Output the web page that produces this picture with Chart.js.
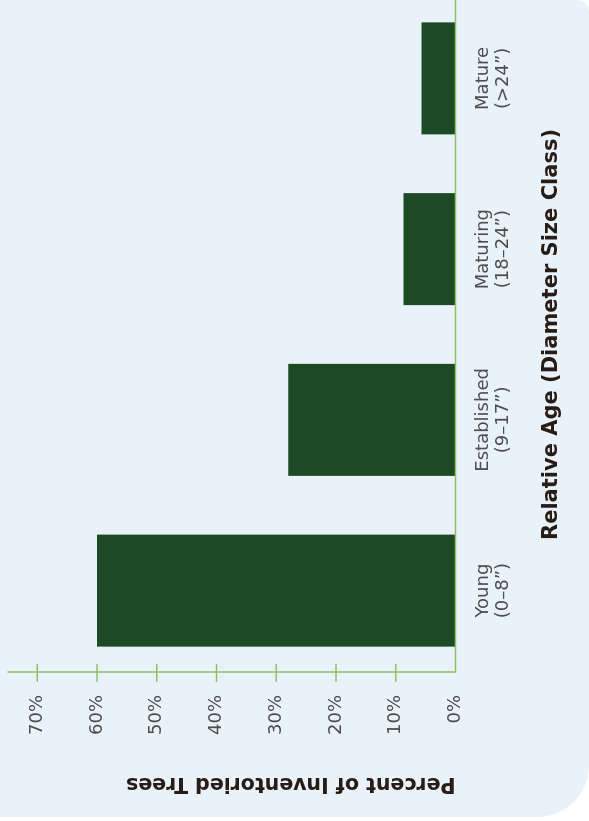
<!DOCTYPE html>
<html>
<head>
<meta charset="utf-8">
<script src="https://cdn.jsdelivr.net/npm/chart.js@4.4.1/dist/chart.umd.min.js"></script>
<style>
  body { margin: 0; background: #fff; overflow: hidden; }
  .panel {
    position: absolute; left: 0; top: 0;
    width: 589px; height: 817px;
    background: #e9f2f9;
    border-radius: 0 12px 52px 0;
    overflow: hidden;
  }
  /* chart is drawn upright then turned a quarter turn to the left */
  .wrap {
    position: absolute; left: 0; top: 0;
    width: 830px; height: 589px;
    transform-origin: 0 0;
    transform: translate(0, 821px) rotate(-90deg);
  }
</style>
</head>
<body>
<div class="panel">
  <div class="wrap"><canvas id="myChart" width="830" height="589"></canvas></div>
</div>
<script>
const ageClasses = [
  ['Young', '(0–8”)'],
  ['Established', '(9–17”)'],
  ['Maturing', '(18–24”)'],
  ['Mature', '(>24”)'],
];
const percentTrees = [60, 28, 8.7, 5.7];
const percentTicks = [0, 10, 20, 30, 40, 50, 60, 70];

const barGreen = '#1c4a24';
const axisGreen = '#8cc266';
const tickGrey = '#4d4d4d';
const titleBrown = '#281c16';

// axis lines + little marks that cross the value axis
const axisLines = {
  id: 'axisLines',
  afterDraw(chart) {
    const {ctx, chartArea, scales: {y}} = chart;
    const ax = chartArea.left + 4;
    ctx.save();
    ctx.strokeStyle = axisGreen;
    ctx.lineWidth = 1.5;
    ctx.beginPath();
    ctx.moveTo(ax, chartArea.top);
    ctx.lineTo(ax, chartArea.bottom);
    ctx.lineTo(chartArea.right, chartArea.bottom);
    ctx.stroke();
    y.ticks.forEach(t => {
      if (t.value === 0) return;
      const py = y.getPixelForValue(t.value);
      ctx.beginPath();
      ctx.moveTo(ax - 10, py);
      ctx.lineTo(ax + 8, py);
      ctx.stroke();
    });
    ctx.restore();
  }
};

const data = {
  labels: ageClasses,
  datasets: [{
    data: percentTrees,
    backgroundColor: barGreen,
    barPercentage: 0.656,
    categoryPercentage: 1,
  }]
};

const config = {
  type: 'bar',
  data: data,
  options: {
    responsive: false,
    animation: false,
    devicePixelRatio: 1,
    layout: { padding: { top: 7.4, right: 2, bottom: 0, left: 0 } },
    plugins: { legend: { display: false }, tooltip: { enabled: false } },
    scales: {
      x: {
        grid: { display: false, drawTicks: false },
        border: { display: false },
        ticks: {
          color: tickGrey,
          padding: 18,
          font: { family: 'DejaVu Sans', size: 18, lineHeight: 1.11 },
          maxRotation: 0,
          autoSkip: false,
        },
        title: {
          display: true,
          text: 'Relative Age (Diameter Size Class)',
          color: titleBrown,
          font: { family: 'DejaVu Sans', size: 21, weight: 'bold' },
          padding: { top: 0, bottom: 25 },
        },
        afterFit(axis) {
          axis.height = 133.5;
          axis.paddingLeft = 0;
          axis.paddingRight = 0;
        },
      },
      y: {
        min: 0,
        max: 75,
        grid: { display: false, drawTicks: false },
        border: { display: false },
        afterBuildTicks(axis) {
          axis.ticks = percentTicks.map(v => ({ value: v }));
        },
        ticks: {
          color: tickGrey,
          padding: 19,
          font: { family: 'DejaVu Sans', size: 18 },
          callback: v => v + '%',
        },
        title: {
          display: true,
          text: 'Percent of Inventoried Trees',
          align: 'start',
          color: titleBrown,
          font: { family: 'DejaVu Sans', size: 20.5, weight: 'bold' },
          padding: { top: 25, bottom: 0 },
        },
        afterFit(axis) {
          axis.width = 145;
          axis.paddingTop = 0;
          axis.paddingBottom = 0;
        },
      },
    },
  },
  plugins: [axisLines],
};

const myChart = new Chart(document.getElementById('myChart'), config);
</script>
</body>
</html>
